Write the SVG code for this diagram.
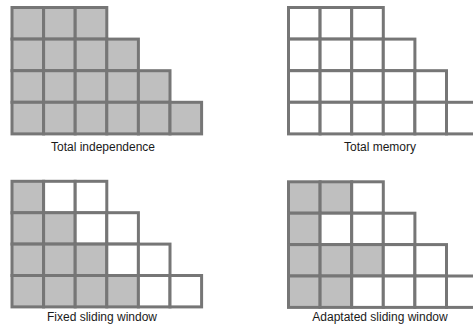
<svg xmlns="http://www.w3.org/2000/svg" width="473" height="329" viewBox="0 0 473 329">
<style>
.c{fill:#ffffff;stroke:#767676;stroke-width:3}
.g{fill:#bfbfbf;stroke:#767676;stroke-width:3}
.t{font-family:"Liberation Sans",Arial,sans-serif;font-size:12px;fill:#1a1a1a;text-anchor:middle}
</style>
<rect width="473" height="329" fill="#ffffff"/>
<g id="total-independence" transform="translate(12,7.5)">
<rect class="g" x="0" y="0" width="31.6" height="31.6"/><rect class="g" x="31.6" y="0" width="31.6" height="31.6"/><rect class="g" x="63.2" y="0" width="31.6" height="31.6"/>
<rect class="g" x="0" y="31.6" width="31.6" height="31.6"/><rect class="g" x="31.6" y="31.6" width="31.6" height="31.6"/><rect class="g" x="63.2" y="31.6" width="31.6" height="31.6"/><rect class="g" x="94.8" y="31.6" width="31.6" height="31.6"/>
<rect class="g" x="0" y="63.2" width="31.6" height="31.6"/><rect class="g" x="31.6" y="63.2" width="31.6" height="31.6"/><rect class="g" x="63.2" y="63.2" width="31.6" height="31.6"/><rect class="g" x="94.8" y="63.2" width="31.6" height="31.6"/><rect class="g" x="126.4" y="63.2" width="31.6" height="31.6"/>
<rect class="g" x="0" y="94.8" width="31.6" height="31.6"/><rect class="g" x="31.6" y="94.8" width="31.6" height="31.6"/><rect class="g" x="63.2" y="94.8" width="31.6" height="31.6"/><rect class="g" x="94.8" y="94.8" width="31.6" height="31.6"/><rect class="g" x="126.4" y="94.8" width="31.6" height="31.6"/><rect class="g" x="158" y="94.8" width="31.6" height="31.6"/>
<text class="t" x="91" y="143.5">Total independence</text>
</g>
<g id="total-memory" transform="translate(288.5,7.5)">
<rect class="c" x="0" y="0" width="31.6" height="31.6"/><rect class="c" x="31.6" y="0" width="31.6" height="31.6"/><rect class="c" x="63.2" y="0" width="31.6" height="31.6"/>
<rect class="c" x="0" y="31.6" width="31.6" height="31.6"/><rect class="c" x="31.6" y="31.6" width="31.6" height="31.6"/><rect class="c" x="63.2" y="31.6" width="31.6" height="31.6"/><rect class="c" x="94.8" y="31.6" width="31.6" height="31.6"/>
<rect class="c" x="0" y="63.2" width="31.6" height="31.6"/><rect class="c" x="31.6" y="63.2" width="31.6" height="31.6"/><rect class="c" x="63.2" y="63.2" width="31.6" height="31.6"/><rect class="c" x="94.8" y="63.2" width="31.6" height="31.6"/><rect class="c" x="126.4" y="63.2" width="31.6" height="31.6"/>
<rect class="c" x="0" y="94.8" width="31.6" height="31.6"/><rect class="c" x="31.6" y="94.8" width="31.6" height="31.6"/><rect class="c" x="63.2" y="94.8" width="31.6" height="31.6"/><rect class="c" x="94.8" y="94.8" width="31.6" height="31.6"/><rect class="c" x="126.4" y="94.8" width="31.6" height="31.6"/><rect class="c" x="158" y="94.8" width="31.6" height="31.6"/>
<text class="t" x="91.5" y="143">Total memory</text>
</g>
<g id="fixed-sliding-window" transform="translate(12,181.3)">
<rect class="g" x="0" y="0" width="31.6" height="31.6"/><rect class="c" x="31.6" y="0" width="31.6" height="31.6"/><rect class="c" x="63.2" y="0" width="31.6" height="31.6"/>
<rect class="g" x="0" y="31.4" width="31.6" height="31.4"/><rect class="g" x="31.6" y="31.4" width="31.6" height="31.4"/><rect class="c" x="63.2" y="31.4" width="31.6" height="31.4"/><rect class="c" x="94.8" y="31.4" width="31.6" height="31.4"/>
<rect class="g" x="0" y="62.8" width="31.6" height="31.4"/><rect class="g" x="31.6" y="62.8" width="31.6" height="31.4"/><rect class="g" x="63.2" y="62.8" width="31.6" height="31.4"/><rect class="c" x="94.8" y="62.8" width="31.6" height="31.4"/><rect class="c" x="126.4" y="62.8" width="31.6" height="31.4"/>
<rect class="g" x="0" y="94.2" width="31.6" height="31.4"/><rect class="g" x="31.6" y="94.2" width="31.6" height="31.4"/><rect class="g" x="63.2" y="94.2" width="31.6" height="31.4"/><rect class="g" x="94.8" y="94.2" width="31.6" height="31.4"/><rect class="c" x="126.4" y="94.2" width="31.6" height="31.4"/><rect class="c" x="158" y="94.2" width="31.6" height="31.4"/>
<text class="t" x="90" y="139.5">Fixed sliding window</text>
</g>
<g id="adaptated-sliding-window" transform="translate(288.5,181.8)">
<rect class="g" x="0" y="0" width="31.6" height="31.4"/><rect class="g" x="31.6" y="0" width="31.6" height="31.4"/><rect class="c" x="63.2" y="0" width="31.6" height="31.4"/>
<rect class="g" x="0" y="31.4" width="31.6" height="31.4"/><rect class="c" x="31.6" y="31.4" width="31.6" height="31.4"/><rect class="c" x="63.2" y="31.4" width="31.6" height="31.4"/><rect class="c" x="94.8" y="31.4" width="31.6" height="31.4"/>
<rect class="g" x="0" y="62.8" width="31.6" height="31.4"/><rect class="g" x="31.6" y="62.8" width="31.6" height="31.4"/><rect class="g" x="63.2" y="62.8" width="31.6" height="31.4"/><rect class="c" x="94.8" y="62.8" width="31.6" height="31.4"/><rect class="c" x="126.4" y="62.8" width="31.6" height="31.4"/>
<rect class="g" x="0" y="94.2" width="31.6" height="31.4"/><rect class="g" x="31.6" y="94.2" width="31.6" height="31.4"/><rect class="c" x="63.2" y="94.2" width="31.6" height="31.4"/><rect class="c" x="94.8" y="94.2" width="31.6" height="31.4"/><rect class="c" x="126.4" y="94.2" width="31.6" height="31.4"/><rect class="c" x="158" y="94.2" width="31.6" height="31.4"/>
<text class="t" x="91.5" y="139">Adaptated sliding window</text>
</g>
</svg>
